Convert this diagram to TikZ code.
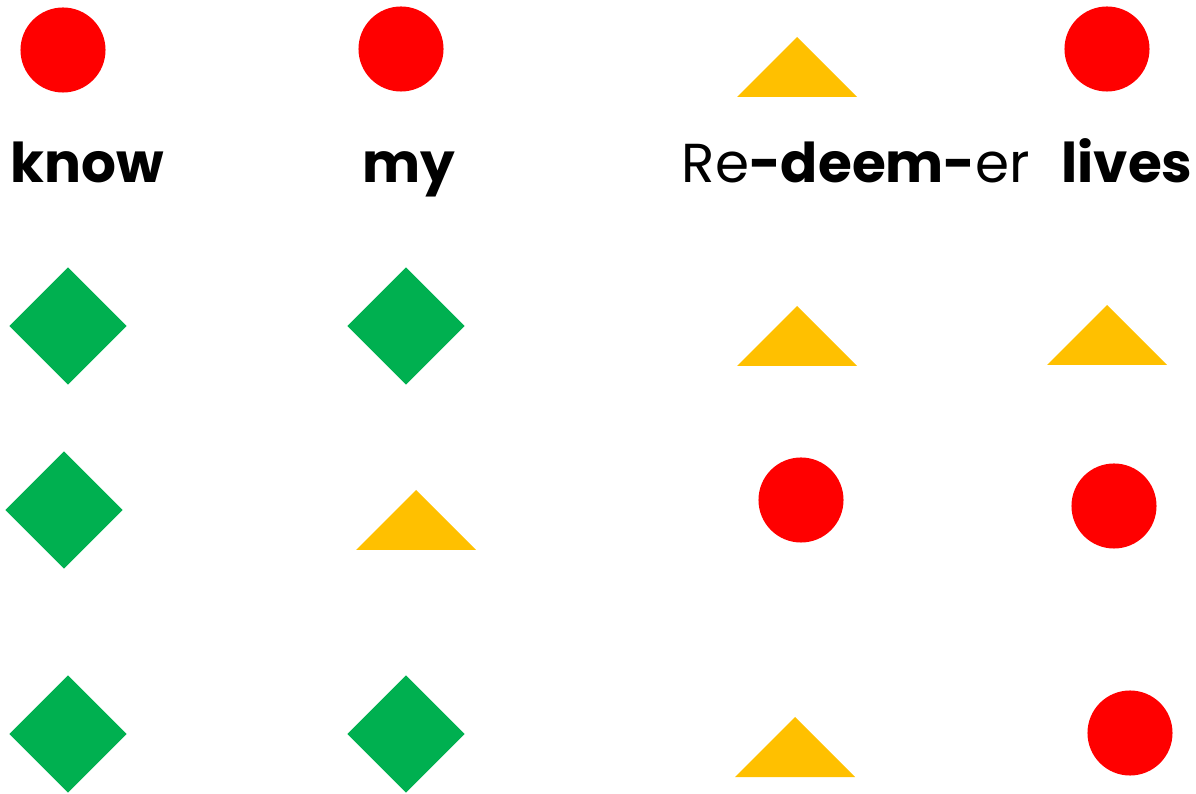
\documentclass[tikz,border=0pt]{standalone}
\usepackage{fontspec}
\setmainfont{Poppins}
\usetikzlibrary{shapes.geometric}
\definecolor{noteRed}{RGB}{255,0,0}
\definecolor{noteGreen}{RGB}{0,176,80}
\definecolor{noteYellow}{RGB}{255,192,0}

\tikzset{
  dot/.style={circle, fill=noteRed, inner sep=0pt, minimum size=0.85cm},
  gem/.style={diamond, fill=noteGreen, inner sep=0pt, aspect=1, minimum width=1.18cm, minimum height=1.18cm},
  tri/.pic={\fill[noteYellow] (-60,30) -- (0,-30) -- (60,30) -- cycle;},
  syl/.style={anchor=base, inner sep=0pt, font=\fontsize{15.6}{18}\selectfont}
}

\begin{document}
\begin{tikzpicture}[x=0.01cm, y=-0.01cm]
\useasboundingbox (0,0) rectangle (1196,794);

% row of the top notes
\node[dot] (k1) at (63,50) {};
\node[dot] (m1) at (401,49) {};
\pic at (797,67) {tri};
\node[dot] (l1) at (1107,49) {};

% words
\node[syl] (know) at (87,183) {\bfseries know};
\node[syl] (my) at (409,183) {\bfseries my};
\node[syl] (red) at (856,183) {Re\textbf{-deem-}er};
\node[syl] (lives) at (1127,183) {\bfseries lives};

% second row
\node[gem] (k2) at (68,326) {};
\node[gem] (m2) at (406,326) {};
\pic at (797,336) {tri};
\pic at (1107,335) {tri};

% third row
\node[gem] (k3) at (64,510) {};
\pic at (416,520) {tri};
\node[dot] (r3) at (801,500) {};
\node[dot] (l3) at (1114,506) {};

% fourth row
\node[gem] (k4) at (68,734) {};
\node[gem] (m4) at (406,734) {};
\pic at (795,747) {tri};
\node[dot] (l4) at (1130,733) {};
\end{tikzpicture}
\end{document}
